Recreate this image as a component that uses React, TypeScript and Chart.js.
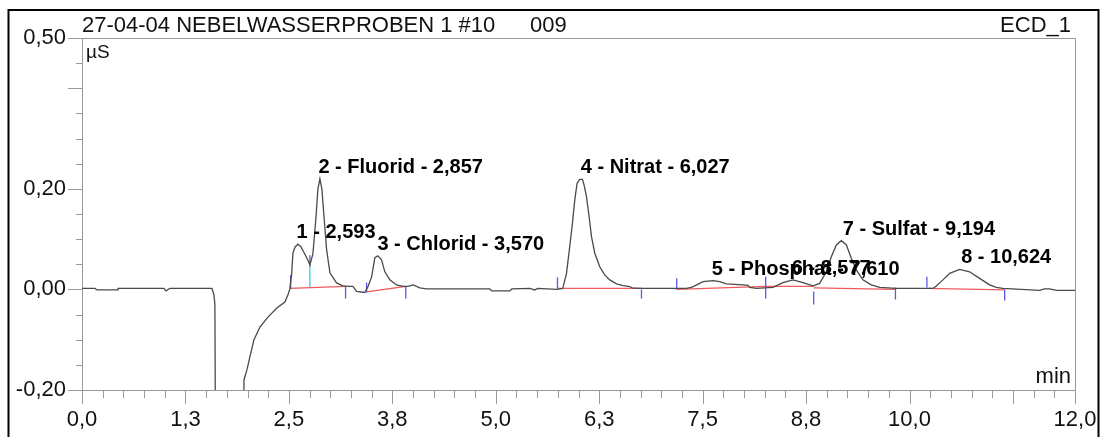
import React, { useEffect, useRef } from "react";
import { Chart, registerables } from "chart.js";

Chart.register(...registerables);

// ---- Chromatogram trace (retention time in min, conductivity in µS) ----
const traceTime = [
  0.0, 0.157, 0.181, 0.423, 0.435, 0.99, 1.015, 1.039, 1.063, 1.57, 1.594, 1.606, 1.618, 1.94, 1.95,
  1.957, 1.993, 2.029, 2.078, 2.15, 2.247, 2.355, 2.452, 2.488, 2.512,
  2.533, 2.549, 2.573, 2.609, 2.645, 2.694, 2.73, 2.754, 2.79, 2.826, 2.851, 2.875, 2.899, 2.915,
  2.956, 2.996, 3.076, 3.153, 3.237, 3.273, 3.318, 3.418, 3.454, 3.5, 3.539, 3.575, 3.62, 3.66,
  3.72, 3.8, 3.881, 3.938, 4.002, 4.083, 4.164, 4.928, 4.952, 5.17, 5.194, 5.411, 5.472, 5.508,
  5.737, 5.81, 5.855, 5.894, 5.927, 5.955, 5.983, 6.015, 6.048, 6.067, 6.096, 6.128, 6.157, 6.197,
  6.257, 6.317, 6.378, 6.459, 6.538, 6.619, 6.659, 6.776, 7.304, 7.364, 7.404, 7.505, 7.625, 7.706,
  7.787, 7.988, 8.048, 8.069, 8.15, 8.35, 8.471, 8.592, 8.713, 8.833, 8.914, 8.995, 9.055, 9.116,
  9.176, 9.236, 9.297, 9.357, 9.437, 9.538, 9.639, 9.84, 10.283, 10.324, 10.404, 10.485, 10.605,
  10.726, 10.847, 10.968, 11.049, 11.128, 11.571, 11.632, 11.692, 11.777, 12.0,
];
const traceValue = [
  0.002, 0.002, -0.001, -0.001, 0.002, 0.002, -0.003, 0.0, 0.002, 0.002, -0.01, -0.03, -0.5, -0.5, -0.21,
  -0.18, -0.16, -0.134, -0.1, -0.075, -0.055, -0.037, -0.025, -0.011, 0.001,
  0.03, 0.072, 0.084, 0.09, 0.085, 0.07, 0.058, 0.049, 0.07, 0.14, 0.2, 0.22, 0.2, 0.165,
  0.079, 0.033, 0.013, 0.007, 0.006, 0.006, -0.004, -0.006, 0.005, 0.025, 0.063, 0.067, 0.059, 0.035,
  0.019, 0.009, 0.006, 0.006, 0.009, 0.003, 0.001, 0.001, -0.003, -0.003, 0.001, 0.002, -0.001, 0.002,
  0.0, 0.002, 0.032, 0.085, 0.132, 0.178, 0.211, 0.219, 0.219, 0.208, 0.185, 0.145, 0.105, 0.072,
  0.045, 0.029, 0.019, 0.011, 0.0076, 0.0056, 0.0024, 0.002, 0.002, 0.004, 0.007, 0.0155, 0.0175, 0.0155,
  0.011, 0.009, 0.008, 0.004, 0.002, 0.004, 0.0135, 0.019, 0.0135, 0.007, 0.012, 0.035, 0.065, 0.0885,
  0.097, 0.089, 0.062, 0.039, 0.019, 0.009, 0.004, 0.002, 0.002, 0.007, 0.019, 0.032, 0.04,
  0.035, 0.022, 0.009, 0.004, 0.002, -0.002, 0.001, 0.001, -0.002, -0.002,
];

// ---- Peaks ----
const peakNames = [
  "1 - 2,593",
  "2 - Fluorid - 2,857",
  "3 - Chlorid - 3,570",
  "4 - Nitrat - 6,027",
  "5 - Phosphat - 7,610",
  "6 - 8,577",
  "7 - Sulfat - 9,194",
  "8 - 10,624",
];
const peakTimes = [2.593, 2.857, 3.57, 6.027, 7.61, 8.577, 9.194, 10.624];
const peakApex = [0.09, 0.22, 0.067, 0.219, 0.0175, 0.019, 0.097, 0.04];

// ---- Integration baselines ----
const baseStartTime = [2.512, 3.439, 5.746, 7.187, 8.262, 8.842, 10.21];
const baseStartValue = [0.002, -0.005, 0.002, 0.0, 0.006, 0.003, 0.002];
const baseEndTime = [3.185, 3.913, 6.761, 8.262, 8.842, 9.83, 11.15];
const baseEndValue = [0.006, 0.006, 0.002, 0.006, 0.006, 0.0, -0.001];

// ---- Peak delimiter markers ----
const markerTime = [2.521, 2.754, 3.185, 3.439, 3.913, 5.746, 6.761, 7.187, 8.262, 8.842, 9.83, 10.21, 11.15];
const markerTop = [0.028, 0.068, 0.006, 0.014, 0.006, 0.024, 0.0, 0.022, 0.025, -0.004, 0.004, 0.025, 0.0];
const markerBottom = [0.002, 0.045, -0.018, -0.006, -0.018, 0.002, -0.018, 0.0, -0.018, -0.03, -0.02, 0.004, -0.022];
const dropTime = [2.754];
const dropTop = [0.045];
const dropBottom = [0.005];

// ---- Axes ----
const xMin = 0;
const xMax = 12;
const xStep = 0.25;
const xMajorStep = 1.25;
const xUnlabelled = [11.25];
const xExtraMajor = [12];
const yMin = -0.2;
const yMax = 0.5;
const yStep = 0.05;
const yLabelled = [0.5, 0.2, 0.0, -0.2];
const yMajor = [0.5, 0.4, 0.2, 0.0, -0.2];

const titleText = "27-04-04 NEBELWASSERPROBEN 1 #10";
const injectionText = "009";
const channelText = "ECD_1";
const yUnit = "µS";
const xUnit = "min";

const FONT = '"Liberation Sans", Arial, sans-serif';

const near = (a: number, b: number) => Math.abs(a - b) < 1e-6;
const isXMajor = (v: number) =>
  near(v / xMajorStep, Math.round(v / xMajorStep)) || xExtraMajor.some((m) => near(m, v));

function segments(t: number[], a: number[], b: number[], tb?: number[]) {
  const out: { x: number; y: number | null }[] = [];
  for (let i = 0; i < t.length; i++) {
    out.push({ x: t[i], y: a[i] });
    out.push({ x: tb ? tb[i] : t[i], y: b[i] });
    out.push({ x: tb ? tb[i] : t[i], y: null });
  }
  return out;
}

const decorPlugin = {
  id: "decor",
  afterDraw(chart: any) {
    const { ctx, chartArea, scales } = chart;
    const xs = scales.x;
    const ys = scales.y;
    ctx.save();
    // outer frame
    ctx.strokeStyle = "#000";
    ctx.lineWidth = 2;
    ctx.beginPath();
    ctx.moveTo(8.5, 460);
    ctx.lineTo(8.5, 10);
    ctx.lineTo(1098.5, 10);
    ctx.lineTo(1098.5, 460);
    ctx.stroke();

    // plot frame top & right
    ctx.strokeStyle = "#999";
    ctx.lineWidth = 1;
    ctx.beginPath();
    ctx.moveTo(chartArea.left, chartArea.top + 0.5);
    ctx.lineTo(chartArea.right + 0.5, chartArea.top + 0.5);
    ctx.lineTo(chartArea.right + 0.5, chartArea.bottom);
    ctx.stroke();

    // tick marks
    ctx.beginPath();
    for (const t of xs.ticks) {
      const v = t.value;
      const px = Math.round(xs.getPixelForValue(v)) + 0.5;
      ctx.moveTo(px, chartArea.bottom);
      ctx.lineTo(px, chartArea.bottom + (isXMajor(v) ? 14 : 8));
    }
    for (const t of ys.ticks) {
      const v = t.value;
      const py = Math.round(ys.getPixelForValue(v)) + 0.5;
      const major = yMajor.some((m) => near(m, v));
      ctx.moveTo(chartArea.left, py);
      ctx.lineTo(chartArea.left - (major ? 14 : 6), py);
    }
    ctx.stroke();

    // header texts
    ctx.fillStyle = "#111";
    ctx.textBaseline = "alphabetic";
    ctx.font = `22px ${FONT}`;
    ctx.textAlign = "left";
    ctx.fillText(titleText, chartArea.left, 32);
    ctx.fillText(injectionText, 530, 32);
    ctx.textAlign = "right";
    ctx.fillText(channelText, 1071, 32);
    ctx.font = `19px ${FONT}`;
    ctx.textAlign = "left";
    ctx.fillText(yUnit, chartArea.left + 4, 58);
    ctx.font = `22px ${FONT}`;
    ctx.textAlign = "right";
    ctx.fillText(xUnit, 1071, 383);

    // peak labels
    ctx.font = `bold 20px ${FONT}`;
    ctx.textAlign = "left";
    ctx.fillStyle = "#000";
    for (let i = 0; i < peakNames.length; i++) {
      const px = xs.getPixelForValue(peakTimes[i]);
      const py = ys.getPixelForValue(peakApex[i]) - 6;
      ctx.fillText(peakNames[i], px, py);
    }
    ctx.restore();
  },
};

export default function App() {
  const ref = useRef<HTMLCanvasElement>(null);

  useEffect(() => {
    if (!ref.current) return;
    const trace = traceTime.map((t, i) => ({ x: t, y: traceValue[i] }));
    const baselines = segments(baseStartTime, baseStartValue, baseEndValue, baseEndTime);
    const markers = segments(markerTime, markerTop, markerBottom);
    const drops = segments(dropTime, dropTop, dropBottom);

    const chart = new Chart(ref.current, {
      type: "line",
      data: {
        datasets: [
          {
            data: trace,
            borderColor: "#4a4a4a",
            borderWidth: 1.3,
            pointRadius: 0,
            tension: 0,
          },
          {
            data: markers,
            borderColor: "#5a5ae8",
            borderWidth: 1.3,
            pointRadius: 0,
            spanGaps: false,
          },
          {
            data: drops,
            borderColor: "#3cc8f0",
            borderWidth: 1.3,
            pointRadius: 0,
            spanGaps: false,
          },
          {
            data: baselines,
            borderColor: "#f05a5a",
            borderWidth: 1.3,
            pointRadius: 0,
            spanGaps: false,
          },
        ],
      },
      options: {
        animation: false,
        responsive: false,
        devicePixelRatio: 1,
        events: [],
        layout: { padding: { left: 0, top: 38, right: 30, bottom: 0 } },
        plugins: { legend: { display: false }, tooltip: { enabled: false } },
        scales: {
          x: {
            type: "linear",
            min: xMin,
            max: xMax,
            grid: { display: false, drawTicks: false },
            border: { display: true, color: "#999", width: 1 },
            ticks: {
              stepSize: xStep,
              autoSkip: false,
              maxRotation: 0,
              minRotation: 0,
              padding: 17,
              color: "#111",
              font: { family: FONT, size: 22 },
              callback: (v: any) => {
                const n = Number(v);
                if (!isXMajor(n)) return "";
                if (xUnlabelled.some((u) => near(u, n))) return "";
                return (Math.abs(n) < 1e-9 ? 0 : n).toFixed(1).replace(".", ",");
              },
            },
            afterFit: (s: any) => {
              s.height = 47;
              s.paddingLeft = 0;
              s.paddingRight = 0;
              s.paddingTop = 0;
              s.paddingBottom = 0;
            },
          },
          y: {
            type: "linear",
            min: yMin,
            max: yMax,
            grid: { display: false, drawTicks: false },
            border: { display: true, color: "#999", width: 1 },
            ticks: {
              stepSize: yStep,
              autoSkip: false,
              padding: 16,
              color: "#111",
              font: { family: FONT, size: 22 },
              callback: (v: any) => {
                const n = Number(v);
                if (!yLabelled.some((m) => near(m, n))) return "";
                return (Math.abs(n) < 1e-9 ? 0 : n).toFixed(2).replace(".", ",");
              },
            },
            afterFit: (s: any) => {
              s.width = 82;
              s.paddingLeft = 0;
              s.paddingRight = 0;
              s.paddingTop = 0;
              s.paddingBottom = 0;
            },
          },
        },
      },
      plugins: [decorPlugin],
    });
    return () => chart.destroy();
  }, []);

  return (
    <div style={{ position: "fixed", left: 0, top: 0, width: 1105, height: 437, background: "#fff" }}>
      <canvas ref={ref} width={1105} height={437} style={{ display: "block" }} />
    </div>
  );
}
